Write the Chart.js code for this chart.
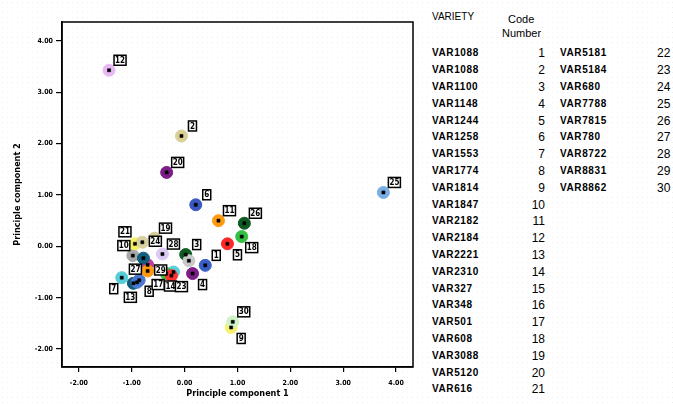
<!DOCTYPE html>
<html>
<head>
<meta charset="utf-8">
<script src="https://cdn.jsdelivr.net/npm/chart.js@4.4.1/dist/chart.umd.min.js"></script>
<style>
	body {
		margin: 0;
		width: 673px;
		height: 404px;
		overflow: hidden;
		position: relative;
		background-color: #fff;
		background-image: radial-gradient(#efefef 0.6px, transparent 0.9px);
		background-size: 5px 5px;
		font-family: "Liberation Sans", Arial, sans-serif;
	}
	#wrap { position: absolute; left: 0; top: 0; width: 420px; height: 404px; }
	.t { position: absolute; white-space: nowrap; color: #000; line-height: 1; }
	.name { font-weight: bold; font-size: 10px; letter-spacing: 0.6px; transform: translateY(-50%); }
	.num { font-size: 12px; transform: translateY(-50%); }
</style>
</head>
<body>
<div id="wrap"><canvas id="pca" width="420" height="404"></canvas></div>
<div id="table"></div>
<script>
// Principal component scores per variety (code number = index + 1)
const codes = [1, 2, 3, 4, 5, 6, 7, 8, 9, 10, 11, 12, 13, 14, 15, 16, 17, 18, 19, 20, 21, 22, 23, 24, 25, 26, 27, 28, 29, 30];
const pc1 = [0.39, -0.06, 0.02, 0.15, 0.81, 0.21, -1.19, -0.86, 0.88, -0.98, 0.64, -1.43, -0.97, -0.21, -0.70, -0.90, -0.35, 1.08, -0.57, -0.34, -0.94, 0.08, -0.25, -0.80, 3.76, 1.13, -0.78, -0.42, -0.70, 0.91];
const pc2 = [-0.37, 2.15, -0.16, -0.53, 0.05, 0.81, -0.61, -0.66, -1.58, -0.18, 0.50, 3.43, -0.72, -0.50, -0.36, -0.70, -0.53, 0.19, 0.16, 1.44, 0.05, -0.28, -0.57, 0.08, 1.05, 0.45, -0.23, -0.15, -0.48, -1.47];

const varieties = ["VAR1088", "VAR1088", "VAR1100", "VAR1148", "VAR1244", "VAR1258", "VAR1553", "VAR1774", "VAR1814", "VAR1847",
	"VAR2182", "VAR2184", "VAR2221", "VAR2310", "VAR327", "VAR348", "VAR501", "VAR608", "VAR3088", "VAR5120",
	"VAR616", "VAR5181", "VAR5184", "VAR680", "VAR7788", "VAR7815", "VAR780", "VAR8722", "VAR8831", "VAR8862"];

const xTicks = [-2, -1, 0, 1, 2, 3, 4];
const yTicks = [-2, -1, 0, 1, 2, 3, 4];

// styling per point
const colors = ["#3a5fc6", "#d8d096", "#0f5a22", "#7b1f86", "#ff2828", "#3a58c0", "#56cdd6", "#4a78d0", "#f6f070", "#a8a8a8",
	"#ff9a10", "#e8b8f4", "#105a78", "#56d0d8", "#c040a0", "#4a78d0", "#34c040", "#34c040", "#d4cc94", "#7b1f86",
	"#f6f060", "#c8c8c8", "#ff3030", "#d8d0a0", "#78b0e4", "#0f5a22", "#125f80", "#dcc8f4", "#ff9a10", "#cff2c8"];
const labelDir = ["ne", "ne", "ne", "se", "se", "ne", "sw", "se", "se", "nw",
	"ne", "ne", "s", "s", "none", "none", "sw", "se", "ne", "ne",
	"nw2", "none", "se", "e", "ne", "ne", "sw", "ne", "e", "ne"];
const dirOffset = { ne: [11, -10], se: [10, 11], sw: [-8, 11], nw: [-9, -10], nw2: [-10, -12], s: [-3, 14], e: [13, -1] };

const pts = codes.map((c, i) => ({ x: pc1[i], y: pc2[i] }));

const frame = {
	id: "frame",
	afterDraw(chart) {
		const { ctx, chartArea: a } = chart;
		ctx.save();
		ctx.strokeStyle = "#000";
		ctx.lineWidth = 1.5;
		ctx.strokeRect(a.left, a.top, a.right - a.left, a.bottom - a.top);
		ctx.restore();
	},
};

const codeLabels = {
	id: "codeLabels",
	afterDatasetsDraw(chart) {
		const ctx = chart.ctx;
		const meta = chart.getDatasetMeta(0);
		ctx.save();
		ctx.font = "bold 8px 'DejaVu Sans Condensed', sans-serif";
		ctx.textAlign = "center";
		ctx.textBaseline = "middle";
		meta.data.forEach((el, i) => {
			const d = dirOffset[labelDir[i]];
			if (!d) return;
			const txt = String(codes[i]);
			const w = txt.length > 1 ? 12 : 8;
			const h = 10;
			const cx = el.x + d[0];
			const cy = el.y + d[1];
			ctx.fillStyle = "#fff";
			ctx.fillRect(cx - w / 2, cy - h / 2, w, h);
			ctx.strokeStyle = "#000";
			ctx.lineWidth = 1.5;
			ctx.strokeRect(cx - w / 2, cy - h / 2, w, h);
			ctx.fillStyle = "#000";
			ctx.fillText(txt, cx, cy + 0.5);
		});
		ctx.restore();
	},
};

const tickFont = { family: "'DejaVu Sans Condensed', sans-serif", size: 7, weight: "bold" };
const titleFont = { family: "'DejaVu Sans Condensed', sans-serif", size: 9, weight: "bold" };

new Chart(document.getElementById("pca"), {
	type: "scatter",
	data: {
		datasets: [
			{
				data: pts,
				order: 1,
				pointStyle: "circle",
				pointRadius: 6,
				pointHoverRadius: 6,
				pointBackgroundColor: colors,
				pointBorderColor: colors,
				pointBorderWidth: 1,
			},
			{
				data: pts,
				order: 0,
				pointStyle: "rect",
				pointRadius: 2.2,
				pointHoverRadius: 2.2,
				pointBackgroundColor: "#000",
				pointBorderColor: "#000",
				pointBorderWidth: 0.5,
			},
		],
	},
	options: {
		responsive: false,
		animation: false,
		events: [],
		layout: { padding: { top: 22, right: 7, left: 0, bottom: 0 } },
		plugins: { legend: { display: false }, tooltip: { enabled: false } },
		scales: {
			x: {
				type: "linear",
				min: -2.32,
				max: 4.32,
				afterBuildTicks: (axis) => { axis.ticks = xTicks.map((v) => ({ value: v })); },
				afterFit: (axis) => { axis.height = 37; },
				ticks: { font: tickFont, color: "#000", padding: 7, maxRotation: 0, callback: (v) => v.toFixed(2) },
				grid: { drawOnChartArea: false, drawTicks: true, tickLength: 5, color: "#000", lineWidth: 1.2 },
				border: { color: "#000", width: 1.5 },
				title: { display: true, text: "Principle component 1", font: titleFont, color: "#000", padding: { top: 4, bottom: 5 } },
			},
			y: {
				type: "linear",
				min: -2.35,
				max: 4.37,
				afterBuildTicks: (axis) => { axis.ticks = yTicks.map((v) => ({ value: v })); },
				afterFit: (axis) => { axis.width = 62; },
				ticks: { font: tickFont, color: "#000", padding: 3, callback: (v) => v.toFixed(2) },
				grid: { drawOnChartArea: false, drawTicks: true, tickLength: 6, color: "#000", lineWidth: 1.2 },
				border: { color: "#000", width: 1.5 },
				title: { display: true, text: "Principle component 2", font: titleFont, color: "#000", padding: { top: 12, bottom: 2 } },
			},
		},
	},
	plugins: [frame, codeLabels],
});

// variety / code number table
const table = document.getElementById("table");
function addText(cls, txt, left, top, align) {
	const s = document.createElement("span");
	s.className = "t " + cls;
	s.textContent = txt;
	s.style.top = top + "px";
	if (align === "right") s.style.right = (673 - left) + "px";
	else s.style.left = left + "px";
	table.appendChild(s);
	return s;
}
addText("", "VARIETY", 432, 12, "left").style.fontSize = "10px";
addText("", "Code", 508, 14, "left").style.fontSize = "11px";
addText("", "Number", 502, 28, "left").style.fontSize = "11px";
varieties.forEach((v, i) => {
	if (i < 21) {
		const y = 53.3 + i * 16.8;
		addText("name", v, 432, y, "left");
		addText("num", String(codes[i]), 545, y, "right");
	} else {
		const y = 53.3 + (i - 21) * 16.8;
		addText("name", v, 560, y, "left");
		addText("num", String(codes[i]), 657, y, "left");
	}
});
</script>
</body>
</html>
